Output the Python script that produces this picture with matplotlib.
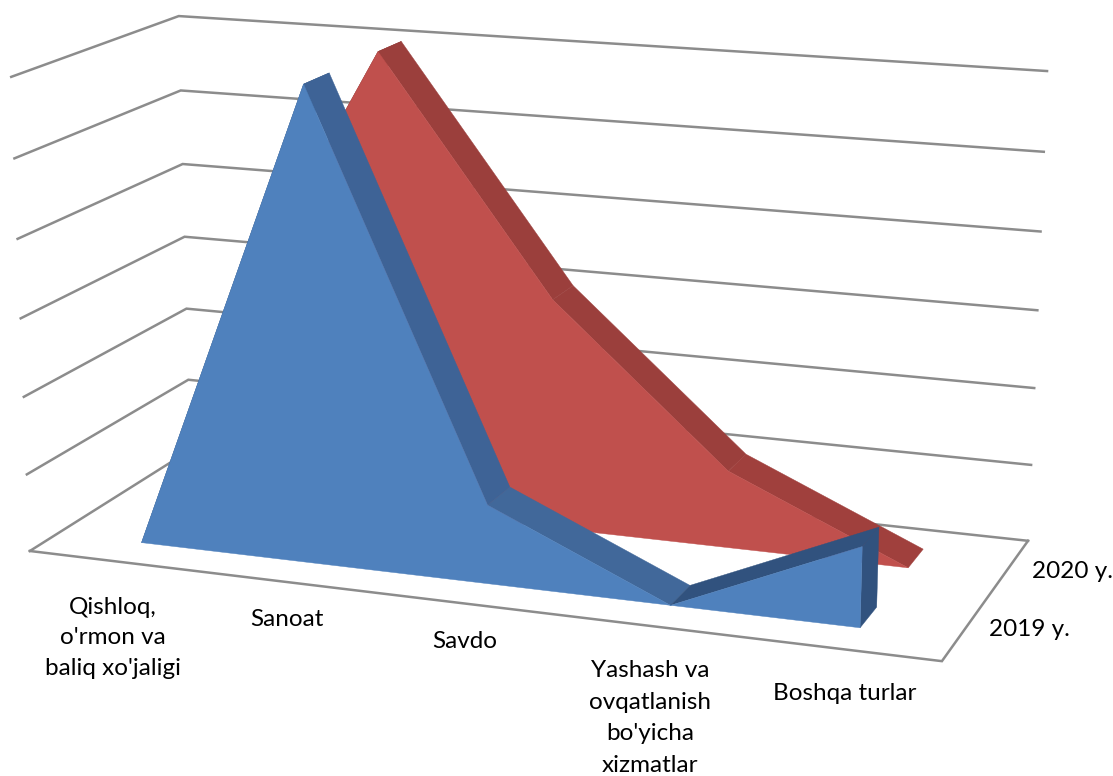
import numpy as np
import matplotlib
matplotlib.use("Agg")
import matplotlib.pyplot as plt

plt.rcParams["font.family"] = ["Lato", "DejaVu Sans"]

CATEGORIES = ["Qishloq,\no'rmon va\nbaliq xo'jaligi", "Sanoat", "Savdo",
              "Yashash va\novqatlanish\nbo'yicha\nxizmatlar", "Boshqa turlar"]
SERIES_NAMES = ["2019 y.", "2020 y."]
VALUES_2019 = [0, 6, 1, 0, 1]
VALUES_2020 = [2, 6, 3, 1, 0]
GRID_LEVELS = [0, 1, 2, 3, 4, 5, 6]

GRID_COLOR = "#8C8C8C"
BLUE = {"front": "#4F81BD", "down": "#3E6396", "flat": "#41689A", "up": "#31527E", "end": "#31527E"}
RED = {"front": "#C0504D", "down": "#9B3F3C", "flat": "#A0403D", "up": "#7F3230", "end": "#7F3230"}

# camera of the 3D box: unit cube corner -> pixel in the picture
BOX_PIXELS = {(0, 0, 0): (30, 551), (1, 0, 0): (942, 661), (1, 1, 0): (1028, 541),
              (0, 1, 0): (190, 450), (0, 1, 1): (179, 16), (1, 1, 1): (1047, 71),
              (0, 0, 1): (11, 77)}


def fit_camera(corners):
    rows, rhs = [], []
    for (x, y, z), (u, v) in corners.items():
        rows.append([x, y, z, 1, 0, 0, 0, 0, -u * x, -u * y, -u * z])
        rows.append([0, 0, 0, 0, x, y, z, 1, -v * x, -v * y, -v * z])
        rhs += [u, v]
    sol = np.linalg.lstsq(np.array(rows, float), np.array(rhs, float), rcond=None)[0]
    return np.append(sol, 1).reshape(3, 4)


CAMERA = fit_camera(BOX_PIXELS)
N_CAT = len(CATEGORIES)
N_SER = len(SERIES_NAMES)
Z_MAX = GRID_LEVELS[-1]


def project(x, y, z):
    # x in category units, y in series units, z in value units
    h = CAMERA @ np.array([x / N_CAT, y / N_SER, z / Z_MAX, 1.0])
    return h[0] / h[2], h[1] / h[2]


def poly(ax, points, color, zorder):
    xy = [project(*p) for p in points]
    ax.fill([q[0] for q in xy], [q[1] for q in xy], color=color, lw=0.3, zorder=zorder)


def draw_area(ax, values, s, colors, zorder):
    # band takes the middle third of the series slot (gap depth 100%)
    y0, y1 = s + 1 / 3, s + 2 / 3
    xs = [i + 0.5 for i in range(N_CAT)]
    for i in range(N_CAT - 1):
        a, b = values[i], values[i + 1]
        if b > a:
            c = colors["up"]
        elif a - b >= 2:
            c = colors["down"]
        else:
            c = colors["flat"]
        poly(ax, [(xs[i], y0, a), (xs[i + 1], y0, b), (xs[i + 1], y1, b), (xs[i], y1, a)], c, zorder)
    if values[-1] > 0:
        poly(ax, [(xs[-1], y0, 0), (xs[-1], y0, values[-1]), (xs[-1], y1, values[-1]), (xs[-1], y1, 0)],
             colors["end"], zorder)
    front = [(x, y0, v) for x, v in zip(xs, values)]
    poly(ax, [(xs[0], y0, 0)] + front + [(xs[-1], y0, 0)], colors["front"], zorder + 0.5)


fig = plt.figure(figsize=(11.13, 7.76), dpi=100)
ax = fig.add_axes([0, 0, 1, 1])
ax.set_xlim(0, 1113)
ax.set_ylim(776, 0)
ax.axis("off")

# walls
for z in GRID_LEVELS:
    xy = [project(0, 0, z), project(0, N_SER, z), project(N_CAT, N_SER, z)]
    ax.plot([q[0] for q in xy], [q[1] for q in xy], color=GRID_COLOR, lw=1.8, zorder=1,
            solid_joinstyle="miter")
# floor, front and right edges
xy = [project(0, 0, 0), project(N_CAT, 0, 0), project(N_CAT, N_SER, 0)]
ax.plot([q[0] for q in xy], [q[1] for q in xy], color=GRID_COLOR, lw=1.8, zorder=1,
        solid_joinstyle="miter")

draw_area(ax, VALUES_2020, 1, RED, 2)
draw_area(ax, VALUES_2019, 0, BLUE, 3)

LABEL_PIXELS = [(113, 638), (287, 620), (465, 642), (650, 718), (845, 694)]
LABEL_SPACING = [1.57, 1.2, 1.2, 1.64, 1.2]
for (u, v), label, sp in zip(LABEL_PIXELS, CATEGORIES, LABEL_SPACING):
    ax.text(u, v, label, ha="center", va="center", fontsize=17.5, color="black", linespacing=sp)
for (u, v), name in zip([(1029, 630), (1072, 571)], SERIES_NAMES):
    ax.text(u, v, name, ha="center", va="center", fontsize=17.5, color="black")

fig.savefig("out.png", dpi=100)
